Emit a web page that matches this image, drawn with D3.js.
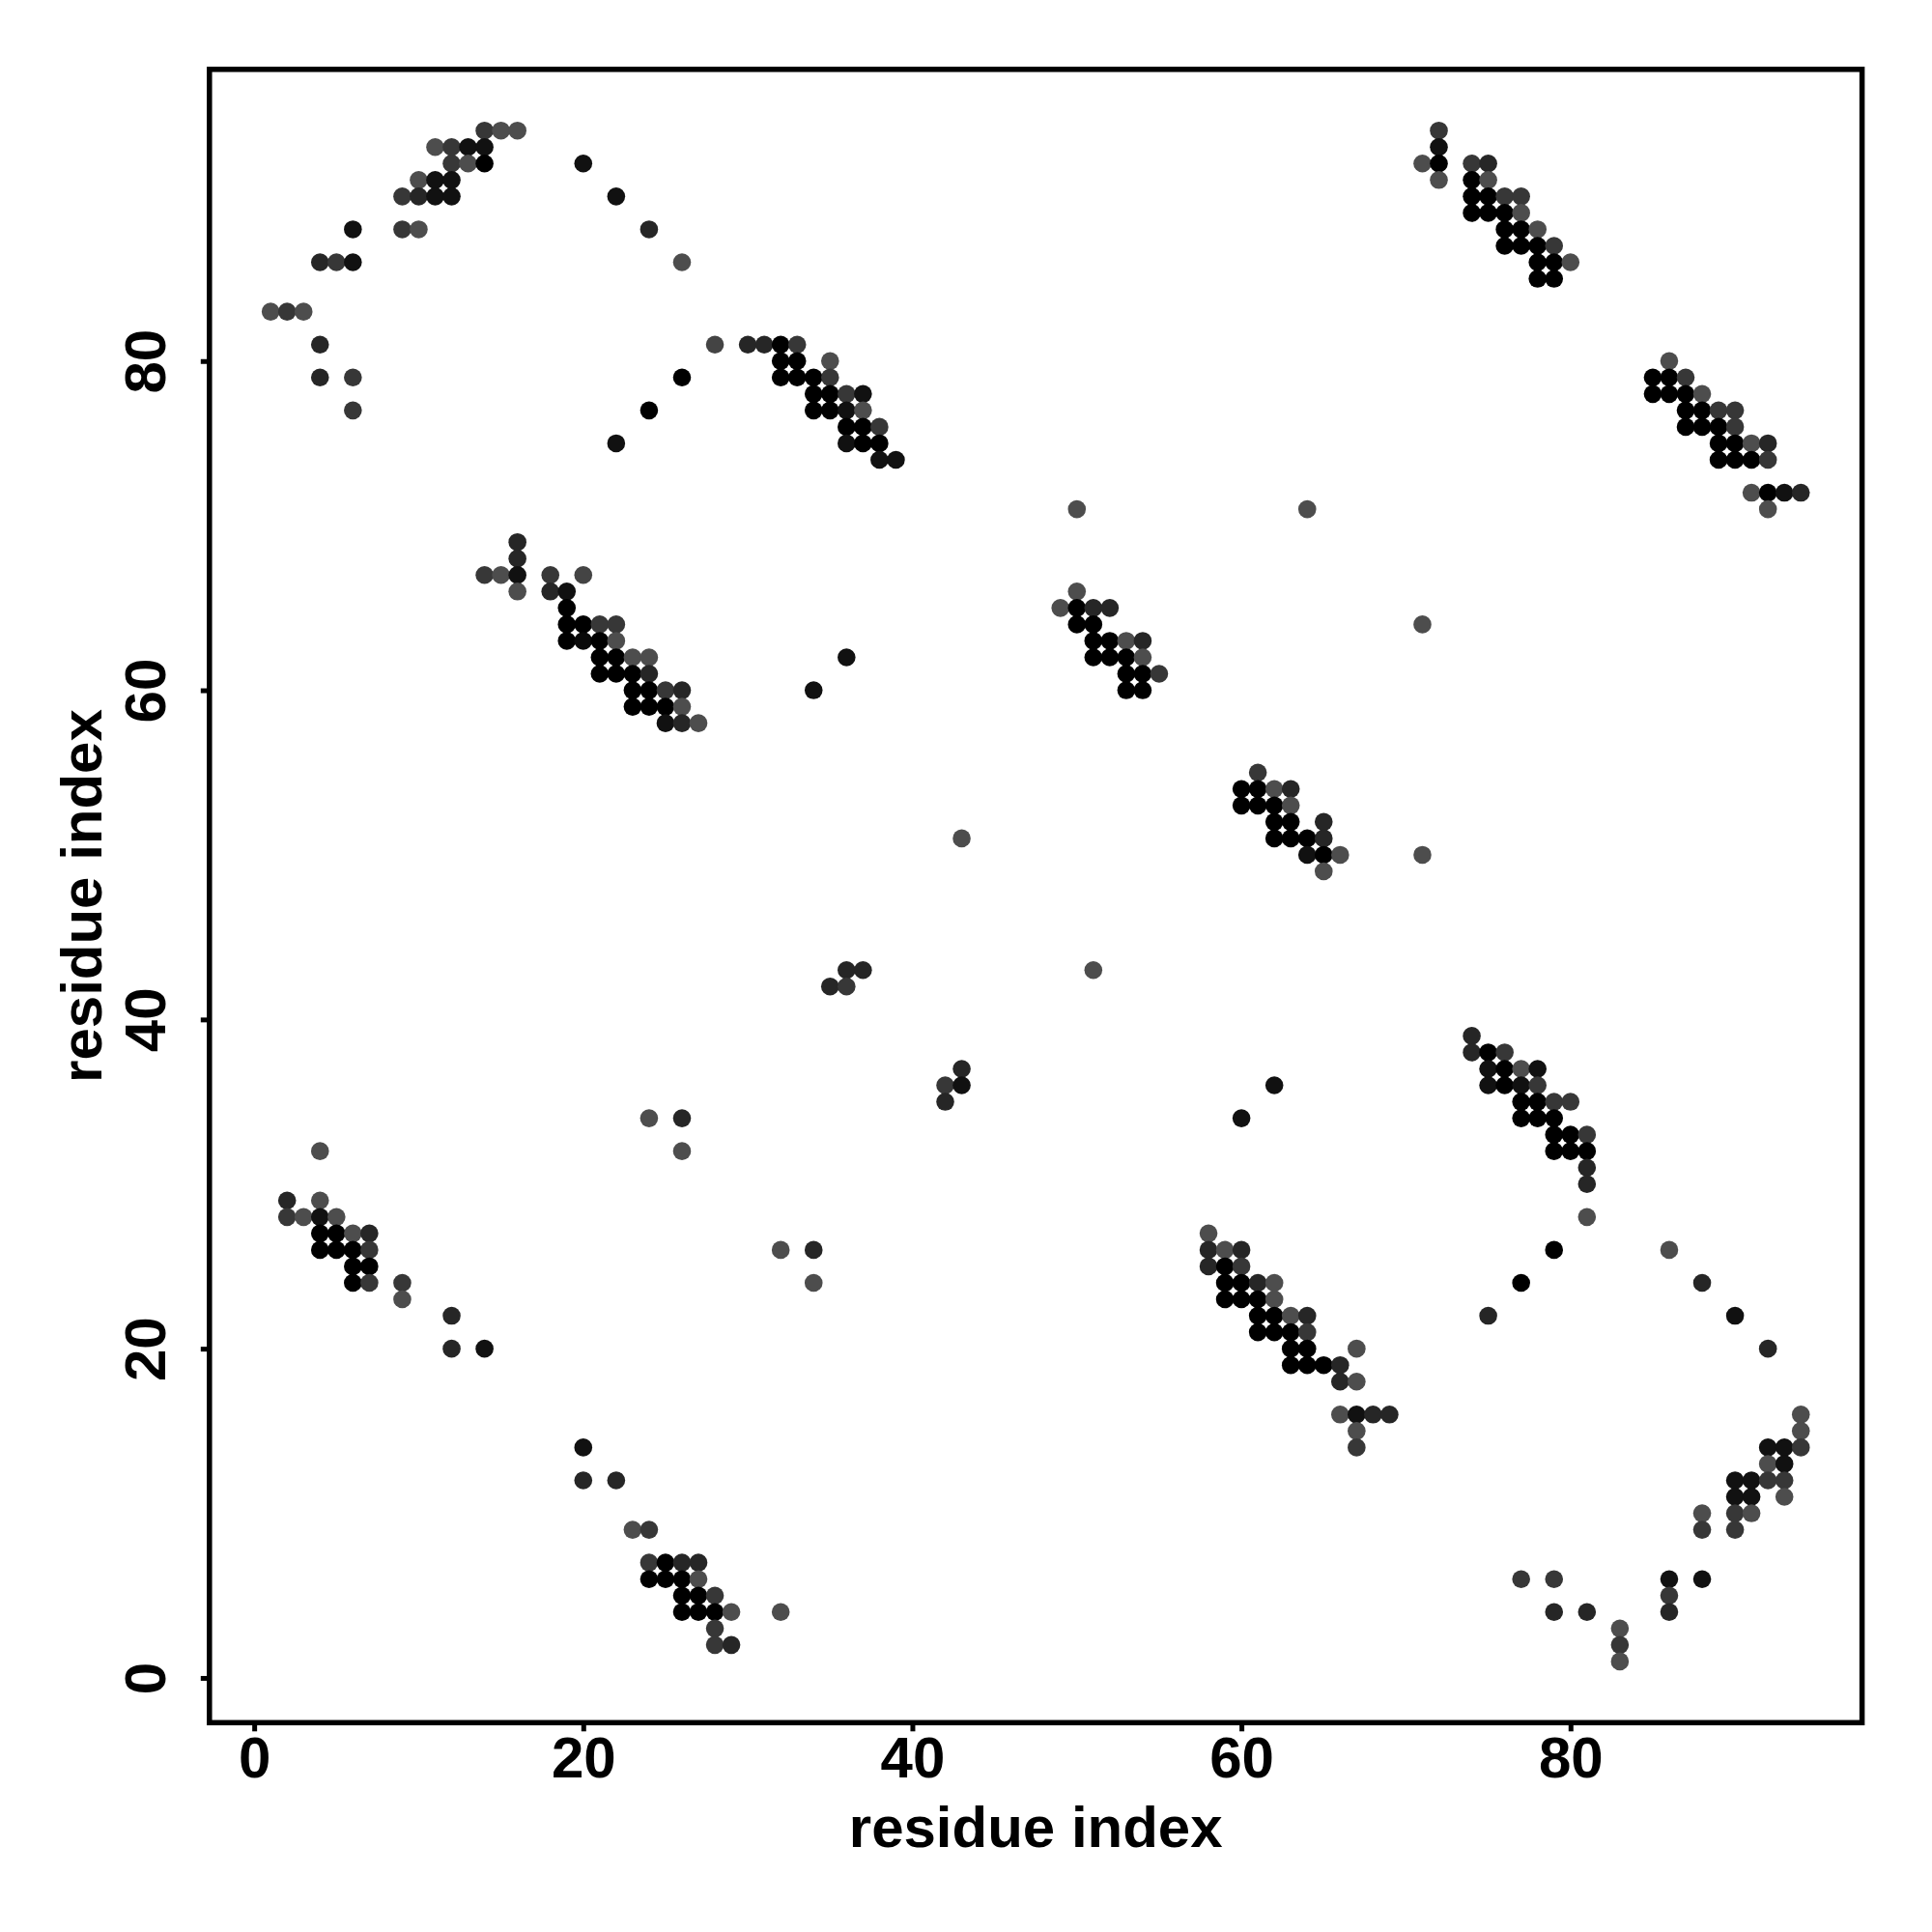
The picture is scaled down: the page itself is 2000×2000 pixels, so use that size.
<!DOCTYPE html>
<html>
<head>
<meta charset="utf-8">
<script src="https://cdn.jsdelivr.net/npm/d3@7"></script>
<style>
  html, body { margin: 0; padding: 0; background: #ffffff; }
  svg { display: block; }
  text { font-family: "Liberation Sans", Arial, Helvetica, sans-serif; font-weight: bold; fill: #000; }
</style>
</head>
<body>
<svg id="chart" width="2000" height="2000"></svg>
<script>
// ---- data: [residue i, residue j, contact score] ----
const clusterTopLeft = [
  [14,94,.35],[15,94,.1],[16,94,.1],
  [11,93,.1],[12,93,.35],[13,93,.8],[14,93,.8],
  [12,92,.35],[13,92,.1],[14,92,1],
  [10,91,.1],[11,91,.8],[12,91,.8],
  [9,90,.35],[10,90,.55],[11,90,.8],[12,90,.8],
  [6,88,.8],[9,88,.35],[10,88,.1],
  [4,86,.55],[5,86,.35],[6,86,.8],
  [1,83,.1],[2,83,.35],[3,83,.1],
  [4,81,.55],[4,79,.55],[6,79,.35],[6,77,.35]
];
const arcTop = [[20,92,.8],[22,90,.8],[24,88,.55],[26,86,.1],[26,79,1],[24,77,1],[22,75,.8]];
const cluster30s = [
  [28,81,.2],[30,81,.55],[31,81,.55],[32,81,1],[33,81,.35],
  [32,80,1],[33,80,1],[35,80,.1],
  [32,79,1],[33,79,1],[34,79,1],[35,79,.35],
  [34,78,1],[35,78,1],[36,78,.35],[37,78,.8],
  [34,77,1],[35,77,1],[36,77,.8],[37,77,.1],
  [36,76,1],[37,76,1],[38,76,.35],
  [36,75,.8],[37,75,1],[38,75,1],
  [38,74,.8],[39,74,.8]
];
const cluster20s = [
  [16,69,.55],[16,68,.55],
  [14,67,.35],[15,67,.1],[16,67,.8],[18,67,.35],[20,67,.2],
  [16,66,.1],[18,66,.55],[19,66,.8],
  [19,65,1],
  [19,64,1],[20,64,1],[21,64,.35],[22,64,.35],
  [19,63,1],[20,63,.9],[21,63,1],[22,63,.1],
  [21,62,1],[22,62,1],[23,62,.1],[24,62,.1],
  [21,61,1],[22,61,1],[23,61,1],[24,61,.55],
  [23,60,1],[24,60,1],[25,60,.35],[26,60,.55],
  [23,59,1],[24,59,1],[25,59,1],[26,59,.1],
  [25,58,.8],[26,58,.55],[27,58,.1]
];
const cluster50s = [
  [50,71,.1],[50,66,.1],
  [49,65,.1],[50,65,1],[51,65,.55],[52,65,.55],
  [50,64,1],[51,64,1],
  [51,63,1],[52,63,1],[53,63,.1],[54,63,.55],
  [51,62,1],[52,62,1],[53,62,1],[54,62,.1],
  [53,61,1],[54,61,1],[55,61,.35],
  [53,60,1],[54,60,1]
];
const cluster60s = [
  [61,55,.35],
  [60,54,1],[61,54,1],[62,54,.1],[63,54,.55],
  [60,53,1],[61,53,1],[62,53,1],[63,53,.1],
  [62,52,1],[63,52,1],[65,52,.55],
  [62,51,1],[63,51,1],[64,51,1],[65,51,.55],
  [64,50,.8],[65,50,1],[66,50,.1],
  [65,49,.1]
];
const singlesMid = [
  [36,62,.8],[34,60,.8],[64,71,.1],[71,64,.1],[71,50,.1],[43,51,.1],[51,43,.1],
  [36,43,.55],[37,43,.55],[35,42,.55],[36,42,.35],
  [43,37,.55],[42,36,.35],[43,36,.8],[42,35,.55],
  [62,36,.8],[60,34,.8],[24,34,.1],[26,34,.55],[4,32,.1],[26,32,.1],
  [32,26,.1],[34,26,.55],[34,24,.1],[32,4,.1]
];
const clusterTopRight = [
  [72,94,.35],[72,93,.8],
  [71,92,.1],[72,92,1],[74,92,.35],[75,92,.55],
  [72,91,.1],[74,91,1],[75,91,.1],
  [74,90,1],[75,90,1],[76,90,.35],[77,90,.35],
  [74,89,1],[75,89,1],[76,89,1],[77,89,.1],
  [76,88,1],[77,88,1],[78,88,.1],
  [76,87,1],[77,87,1],[78,87,1],[79,87,.35],
  [78,86,1],[79,86,1],[80,86,.1],
  [78,85,1],[79,85,1]
];
const cluster80s = [
  [86,80,.1],
  [85,79,1],[86,79,1],[87,79,.35],
  [85,78,1],[86,78,1],[87,78,1],[88,78,.1],
  [87,77,1],[88,77,1],[89,77,.35],[90,77,.35],
  [87,76,1],[88,76,1],[89,76,1],[90,76,.35],
  [89,75,1],[90,75,1],[91,75,.1],[92,75,.55],
  [89,74,1],[90,74,1],[91,74,1],[92,74,.35],
  [91,72,.1],[92,72,1],[93,72,.8],[94,72,.55],
  [92,71,.1]
];
const cluster75s = [
  [74,39,.55],
  [74,38,.55],[75,38,1],[76,38,.35],
  [75,37,.8],[76,37,1],[77,37,.1],[78,37,.8],
  [75,36,.8],[76,36,1],[77,36,.8],[78,36,.35],
  [77,35,1],[78,35,1],[79,35,.35],[80,35,.35],
  [77,34,1],[78,34,1],[79,34,1],
  [79,33,1],[80,33,1],[81,33,.35],
  [79,32,1],[80,32,1],[81,32,1],
  [81,31,.55],[81,30,.55],[81,28,.1]
];
const arcRight = [[79,26,1],[86,26,.1],[77,24,1],[88,24,.55],[75,22,.55],[90,22,.8],[92,20,.55]];
const cluster60sLow = [
  [58,27,.1],
  [58,26,.55],[59,26,.1],[60,26,.55],
  [58,25,.55],[59,25,1],[60,25,.35],
  [59,24,1],[60,24,1],[61,24,.55],[62,24,.1],
  [59,23,1],[60,23,1],[61,23,1],[62,23,.1],
  [61,22,1],[62,22,1],[63,22,.1],[64,22,.55],
  [61,21,1],[62,21,1],[63,21,1],[64,21,.35],
  [63,20,1],[64,20,1],[67,20,.1],
  [63,19,1],[64,19,1],[65,19,1],[66,19,.55],
  [66,18,.55],[67,18,.1],
  [66,16,.1],[67,16,.8],[68,16,.55],[69,16,.55],
  [67,15,.1],[67,14,.35]
];
const clusterBottomLeft = [
  [2,29,.55],[4,29,.1],
  [2,28,.35],[3,28,.1],[4,28,.8],[5,28,.1],
  [4,27,1],[5,27,1],[6,27,.1],[7,27,.55],
  [4,26,1],[5,26,1],[6,26,1],[7,26,.35],
  [6,25,1],[7,25,1],
  [6,24,1],[7,24,.35],[9,24,.35],[9,23,.1],
  [12,22,.55],[12,20,.55],[14,20,.8]
];
const clusterBottom20s = [
  [20,14,.8],[20,12,.55],[22,12,.55],
  [23,9,.1],[24,9,.35],
  [24,7,.35],[25,7,1],[26,7,.55],[27,7,.55],
  [24,6,1],[25,6,1],[26,6,1],[27,6,.1],
  [26,5,1],[27,5,1],[28,5,.35],
  [26,4,1],[27,4,1],[28,4,1],[29,4,.1],
  [28,3,.35],[28,2,.35],[29,2,.55]
];
const clusterBottomRight = [
  [94,16,.1],[94,15,.1],
  [92,14,.8],[93,14,.8],[94,14,.35],
  [92,13,.1],[93,13,.8],
  [90,12,.8],[91,12,.8],[92,12,.35],[93,12,.35],
  [90,11,.8],[91,11,.8],[93,11,.1],
  [88,10,.1],[90,10,.35],[91,10,.1],
  [88,9,.35],[90,9,.35],
  [77,6,.35],[79,6,.35],[86,6,.8],[88,6,.8],
  [86,5,.35],
  [79,4,.55],[81,4,.55],[86,4,.55],
  [83,3,.1],[83,2,.35],[83,1,.1]
];
const xTicks = [0, 20, 40, 60, 80];
const yTicks = [0, 20, 40, 60, 80];
const xLabel = "residue index";
const yLabel = "residue index";

const points = [].concat(clusterTopLeft, arcTop, cluster30s, cluster20s, cluster50s,
  cluster60s, singlesMid, clusterTopRight, cluster80s, cluster75s, arcRight,
  cluster60sLow, clusterBottomLeft, clusterBottom20s, clusterBottomRight)
  .map(d => ({ i: d[0], j: d[1], s: d[2] }));

// ---- layout ----
const plotL = 216.8, plotR = 1927.6, plotT = 71.8, plotB = 1783.3;
const svg = d3.select("#chart");

const x = d3.scaleLinear().domain([-2.72, 97.72]).range([plotL, plotR]);
const y = d3.scaleLinear().domain([-2.72, 97.72]).range([plotB, plotT]);
const color = d3.scaleLinear().domain([0, 1]).range(["#555555", "#000000"]);

// points
svg.append("g").selectAll("circle").data(points).join("circle")
  .attr("cx", d => x(d.i))
  .attr("cy", d => y(d.j))
  .attr("r", 9.3)
  .attr("fill", d => color(d.s));

// x axis
const gx = svg.append("g").attr("transform", `translate(0,${plotB})`)
  .call(d3.axisBottom(x).tickValues(xTicks).tickSize(9).tickSizeOuter(0));
gx.select(".domain").remove();
gx.selectAll(".tick line").attr("stroke", "#000").attr("stroke-width", 5);
gx.selectAll(".tick text")
  .attr("y", 57).attr("dy", 0)
  .style("font-size", "60px").style("font-weight", "bold")
  .style("font-family", '"Liberation Sans", Arial, sans-serif');

// y axis
const gy = svg.append("g").attr("transform", `translate(${plotL},0)`)
  .call(d3.axisLeft(y).tickValues(yTicks).tickSize(9).tickSizeOuter(0));
gy.select(".domain").remove();
gy.selectAll(".tick line").attr("stroke", "#000").attr("stroke-width", 5);
gy.selectAll(".tick text")
  .attr("x", 0).attr("dy", 0).attr("text-anchor", "middle")
  .attr("transform", `translate(${171 - plotL},0) rotate(-90)`)
  .style("font-size", "60px").style("font-weight", "bold")
  .style("font-family", '"Liberation Sans", Arial, sans-serif');

// box
svg.append("rect")
  .attr("x", plotL).attr("y", plotT)
  .attr("width", plotR - plotL).attr("height", plotB - plotT)
  .attr("fill", "none").attr("stroke", "#000").attr("stroke-width", 5.5);

// axis titles
svg.append("text")
  .attr("x", (plotL + plotR) / 2).attr("y", 1912)
  .attr("text-anchor", "middle")
  .style("font-size", "60px")
  .text(xLabel);
svg.append("text")
  .attr("transform", `translate(105,${(plotT + plotB) / 2}) rotate(-90)`)
  .attr("text-anchor", "middle")
  .style("font-size", "60px")
  .text(yLabel);
</script>
</body>
</html>
